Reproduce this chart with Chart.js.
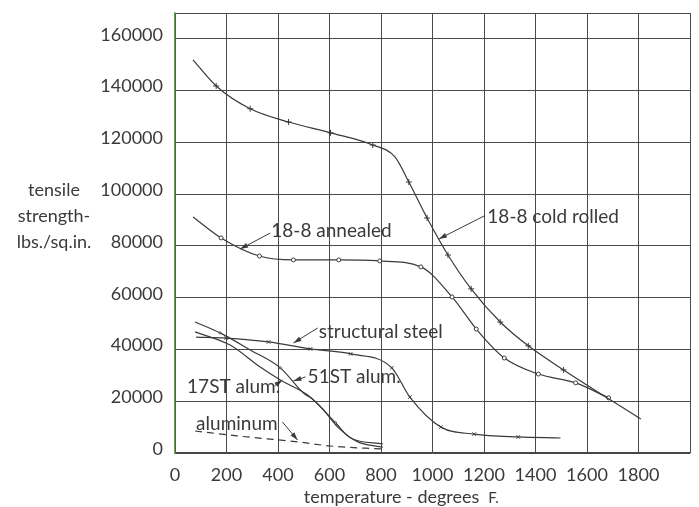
<!DOCTYPE html>
<html lang="en">
<head>
<meta charset="UTF-8" />
<title>Tensile strength vs temperature</title>
<script src="https://cdn.jsdelivr.net/npm/chart.js@4.4.0/dist/chart.umd.min.js"></script>
<style>
  html, body { margin:0; padding:0; background:#ffffff; }
  #wrap { width:699px; height:507px; }
</style>
</head>
<body>
<div id="wrap"><canvas id="t_chart"></canvas></div>
<script>
// readings taken off the curves: temperature (deg F) and tensile strength (lbs/sq.in.)
const coldRolledT = [70, 160, 292, 441, 604, 768, 854, 908, 979, 1060, 1150, 1263, 1372, 1509, 1809];
const coldRolledS = [151900, 141800, 133000, 127900, 123700, 119000, 114400, 104700, 90800, 76500, 63400, 50600, 41400, 32100, 13100];
const coldRolledMarks = [1, 2, 3, 4, 5, 7, 8, 9, 10, 11, 12, 13];

const annealedT = [70, 179, 328, 460, 636, 795, 955, 1076, 1170, 1279, 1411, 1556, 1684];
const annealedS = [91200, 83100, 76100, 74600, 74600, 74200, 71900, 60300, 47900, 36700, 30500, 27100, 21300];
const annealedMarks = [1, 2, 3, 4, 5, 6, 7, 8, 9, 10, 11, 12];

const steelT = [82, 199, 363, 526, 682, 842, 912, 1033, 1162, 1333, 1497];
const steelS = [44800, 44400, 42900, 40200, 38300, 32900, 21600, 10000, 7300, 6200, 5800];
const steelMarks = [1, 2, 3, 4, 5, 6, 7, 8, 9];

const alum51T = [78, 175, 292, 409, 499, 538, 624, 682, 807];
const alum51S = [50600, 46400, 39800, 32900, 23200, 20500, 11600, 5800, 3500];
const alum51Marks = [1, 3, 6];

const alum17T = [78, 214, 331, 409, 515, 577, 632, 710, 807];
const alum17S = [46800, 41700, 33200, 28200, 22400, 16600, 10000, 4300, 2300];

const aluminumT = [78, 242, 476, 604, 811];
const aluminumS = [8500, 6600, 4300, 2700, 1500];

const xTicks = [0, 200, 400, 600, 800, 1000, 1200, 1400, 1600, 1800];
const yTicks = [0, 20000, 40000, 60000, 80000, 100000, 120000, 140000, 160000];

// hand-lettered labels with their leader arrows (data coordinates)
const notes = [
  { text: '18-8 cold rolled', at: [1213, 91200], from: [1201, 91600], to: [1025, 82700] },
  { text: '18-8 annealed',    at: [374, 85800],  from: [370, 85000],  to: [253, 78800] },
  { text: 'structural steel', at: [558, 46800],  from: [554, 48300],  to: [460, 42500] },
  { text: '51ST alum.',       at: [515, 29400],  from: [507, 29400],  to: [460, 27800] },
  { text: '17ST alum.',       at: [47, 25500],   from: [386, 25900],  to: [417, 28200] },
  { text: 'aluminum',         at: [82, 11200],   from: [417, 12000],  to: [476, 5000] }
];

const ink = '#3a3a3a';
const fontFam = 'Lato, "DejaVu Sans", sans-serif';

function pts(t, s) {
  return t.map((v, i) => ({ x: v, y: s[i] }));
}
function markAt(list, size) {
  return (c) => list.includes(c.dataIndex) ? size : 0;
}

function curve(label, t, s, marks, style, size, dash) {
  return {
    label: label,
    data: pts(t, s),
    borderColor: ink,
    backgroundColor: '#ffffff',
    borderWidth: 1.2,
    borderDash: dash || [],
    pointStyle: style,
    pointRadius: markAt(marks, size),
    pointBorderColor: ink,
    pointBorderWidth: 1,
    cubicInterpolationMode: 'monotone',
    fill: false
  };
}

function arrow(ctx, x1, y1, x2, y2) {
  ctx.beginPath();
  ctx.moveTo(x1, y1);
  ctx.lineTo(x2, y2);
  ctx.stroke();
  const a = Math.atan2(y2 - y1, x2 - x1);
  ctx.beginPath();
  ctx.moveTo(x2, y2);
  ctx.lineTo(x2 - 8 * Math.cos(a) + 2.5 * Math.sin(a), y2 - 8 * Math.sin(a) - 2.5 * Math.cos(a));
  ctx.lineTo(x2 - 8 * Math.cos(a) - 2.5 * Math.sin(a), y2 - 8 * Math.sin(a) + 2.5 * Math.cos(a));
  ctx.closePath();
  ctx.fill();
}

const notePlugin = {
  id: 'notes',
  afterDatasetsDraw(chart) {
    const ctx = chart.ctx;
    const xs = chart.scales.x, ys = chart.scales.y;
    const area = chart.chartArea;
    ctx.save();
    ctx.fillStyle = ink;
    ctx.strokeStyle = ink;
    ctx.lineWidth = 1;
    ctx.font = '19px ' + fontFam;
    ctx.textBaseline = 'middle';
    ctx.textAlign = 'left';
    notes.forEach(n => {
      ctx.fillText(n.text, xs.getPixelForValue(n.at[0]), ys.getPixelForValue(n.at[1]));
      arrow(ctx, xs.getPixelForValue(n.from[0]), ys.getPixelForValue(n.from[1]),
                 xs.getPixelForValue(n.to[0]), ys.getPixelForValue(n.to[1]));
    });

    // y title, written across at the left
    ctx.font = '18px ' + fontFam;
    const top = ys.getPixelForValue(100000) - 4;
    const bot = ys.getPixelForValue(80000) - 4;
    const cx = area.left - 121;
    ctx.textAlign = 'center';
    ctx.fillText('tensile', cx, top);
    ctx.fillText('strength-', cx, (top + bot) / 2);
    ctx.fillText('lbs./sq.in.', cx, bot);

    // x title
    ctx.textAlign = 'left';
    const tx = xs.getPixelForValue(500);
    const ty = area.bottom + 44;
    const main = 'temperature - degrees';
    ctx.fillText(main, tx, ty);
    const w = ctx.measureText(main).width;
    ctx.font = '15px ' + fontFam;
    ctx.fillText('F.', tx + w + 9, ty + 1);
    ctx.restore();
  }
};

function noPad(s) {
  s.paddingTop = 0;
  s.paddingBottom = 0;
  s.paddingLeft = 0;
  s.paddingRight = 0;
}

const tChart = document.getElementById('t_chart');
const tmpChart = new Chart(tChart, {
  type: 'line',
  data: {
    datasets: [
      curve('18-8 cold rolled', coldRolledT, coldRolledS, coldRolledMarks, 'cross', 3),
      curve('18-8 annealed', annealedT, annealedS, annealedMarks, 'circle', 2),
      curve('structural steel', steelT, steelS, steelMarks, 'crossRot', 2.5),
      curve('51ST alum.', alum51T, alum51S, alum51Marks, 'circle', 1),
      curve('17ST alum.', alum17T, alum17S, [], 'circle', 0),
      curve('aluminum', aluminumT, aluminumS, [], 'circle', 0, [7, 5])
    ]
  },
  options: {
    responsive: true,
    maintainAspectRatio: false,
    animation: false,
    devicePixelRatio: 1,
    layout: { padding: { left: 0, right: 9, top: 13, bottom: 0 } },
    plugins: {
      legend: { display: false },
      tooltip: { enabled: false }
    },
    scales: {
      x: {
        type: 'linear',
        min: 0,
        max: 2000,
        afterBuildTicks: (s) => { s.ticks = xTicks.concat([2000]).map(v => ({ value: v })); },
        afterFit: (s) => { s.height = 54; noPad(s); },
        grid: { color: '#4a4a4a', lineWidth: 1, drawTicks: false },
        border: { color: '#444444', width: 1.3 },
        ticks: {
          color: ink,
          padding: 11,
          maxRotation: 0,
          autoSkip: false,
          font: { family: fontFam, size: 18 },
          callback: (v) => xTicks.includes(v) ? String(v) : ''
        }
      },
      y: {
        type: 'linear',
        min: 0,
        max: 170000,
        afterBuildTicks: (s) => { s.ticks = yTicks.concat([170000]).map(v => ({ value: v })); },
        afterFit: (s) => { s.width = 175; noPad(s); },
        grid: { color: '#4a4a4a', lineWidth: 1, drawTicks: false },
        border: { color: '#6f9a5e', width: 1.3 },
        ticks: {
          color: ink,
          padding: 12,
          labelOffset: -4,
          autoSkip: false,
          font: { family: fontFam, size: 18 },
          callback: (v) => yTicks.includes(v) ? String(v) : ''
        }
      }
    }
  },
  plugins: [notePlugin]
});
</script>
</body>
</html>
